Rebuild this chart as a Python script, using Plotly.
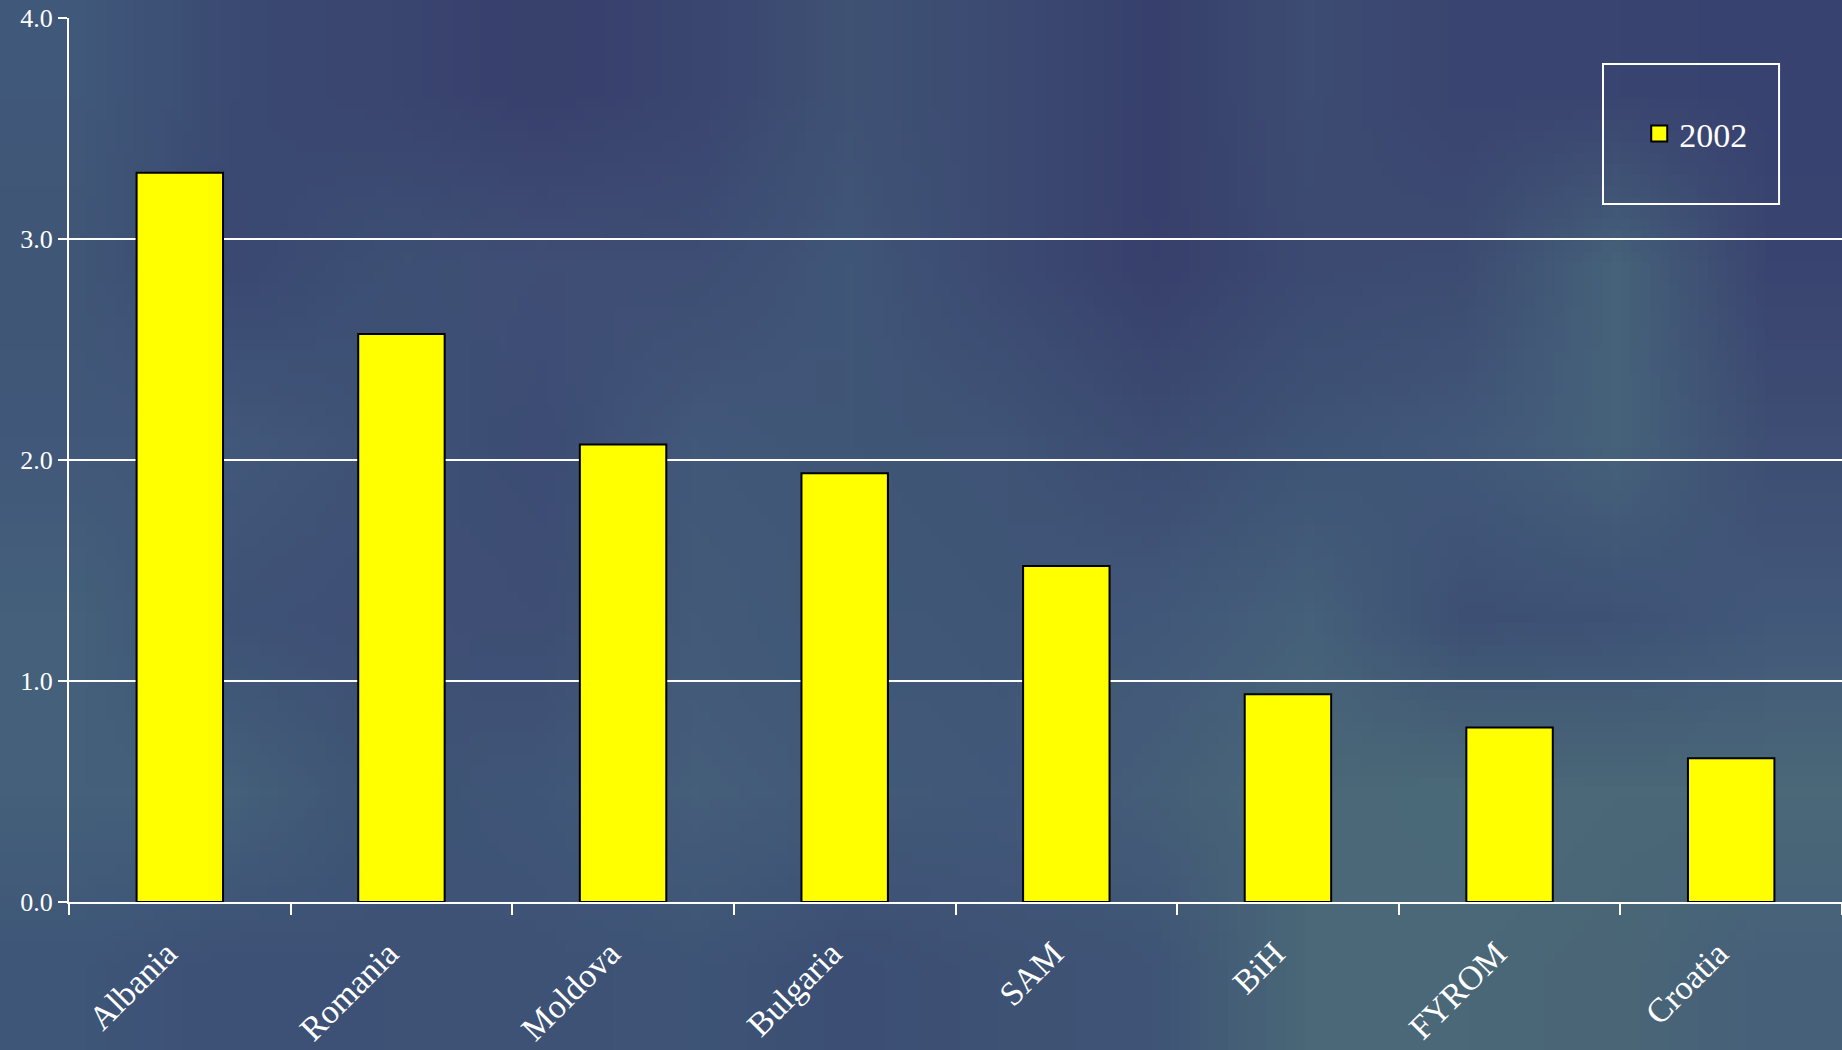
import base64
import struct
import zlib

import plotly.graph_objects as go

# ---------------- data ----------------
countries = ["Albania", "Romania", "Moldova", "Bulgaria", "SAM", "BiH", "FYROM", "Croatia"]
values_2002 = [3.30, 2.57, 2.07, 1.94, 1.52, 0.94, 0.79, 0.65]
series_name = "2002"
y_tick_values = [0, 1, 2, 3, 4]
y_tick_labels = ["0.0", "1.0", "2.0", "3.0", "4.0"]

# ---------------- background (blurred photo approximation) ----------------
bg_grid = [
    ["#40587a", "#3b4a72", "#3a4570", "#38406c", "#3a4570", "#3f5274", "#3c4a72", "#37406c", "#3d4c72", "#3a4470", "#3a4470", "#384270"],
    ["#405676", "#3a4872", "#3d5074", "#404e76", "#3e4e74", "#405678", "#3c4a72", "#38406c", "#3c4a72", "#3d4c72", "#46627a", "#3a4470"],
    ["#42587a", "#42587a", "#3e5276", "#3c4c74", "#42587a", "#405676", "#3f5476", "#3c4c72", "#3e5476", "#42587a", "#46627a", "#3e4e74"],
    ["#44607a", "#3e5276", "#404f76", "#3e4e74", "#435a78", "#405878", "#405676", "#42587a", "#45607a", "#3d5074", "#3e5276", "#42587a"],
    ["#44607a", "#44607a", "#3e5474", "#405678", "#455e7a", "#425a78", "#42587a", "#455e78", "#4a6878", "#4b6a78", "#4a6878", "#4a6878"],
    ["#3e5678", "#3d5076", "#3e5276", "#3e5276", "#3e5476", "#3c4e74", "#3e5274", "#3f5476", "#4a6878", "#4b6878", "#4a6676", "#46607a"],
]


def grid_png(grid):
    h = len(grid)
    w = len(grid[0])
    raw = b""
    for row in grid:
        raw += b"\x00"
        for c in row:
            raw += bytes(int(c[i:i + 2], 16) for i in (1, 3, 5))

    def chunk(tag, data):
        return (struct.pack(">I", len(data)) + tag + data
                + struct.pack(">I", zlib.crc32(tag + data) & 0xFFFFFFFF))

    png = (b"\x89PNG\r\n\x1a\n"
           + chunk(b"IHDR", struct.pack(">IIBBBBB", w, h, 8, 2, 0, 0, 0))
           + chunk(b"IDAT", zlib.compress(raw))
           + chunk(b"IEND", b""))
    return "data:image/png;base64," + base64.b64encode(png).decode()


# ---------------- figure ----------------
W, H = 1842, 1050
ML, MR, MT, MB = 69, 0, 18, 148
PW, PH = W - ML - MR, H - MT - MB

serif = "Liberation Serif, Times New Roman, serif"
bar_fill = "#FFFF00"
bar_edge = "#000000"

fig = go.Figure()
fig.add_trace(go.Bar(
    x=countries,
    y=values_2002,
    name=series_name,
    legendgroup=series_name,
    showlegend=False,
    marker=dict(color=bar_fill, line=dict(color=bar_edge, width=2)),
))
# legend key only (larger square key like the original)
fig.add_trace(go.Scatter(
    x=[None], y=[None],
    mode="markers",
    name=series_name,
    legendgroup=series_name,
    marker=dict(symbol="square", size=20, color=bar_fill, line=dict(color=bar_edge, width=2)),
    hoverinfo="skip",
))

fig.update_layout(
    width=W,
    height=H,
    autosize=False,
    margin=dict(l=ML, r=MR, t=MT, b=MB, pad=0),
    paper_bgcolor="#3f5274",
    plot_bgcolor="rgba(0,0,0,0)",
    bargap=0.61,
    showlegend=True,
    legend=dict(
        x=0.9175, y=0.8688, xanchor="center", yanchor="middle",
        bgcolor="rgba(0,0,0,0)", borderwidth=0,
        font=dict(family=serif, size=34, color="white"),
    ),
    images=[dict(
        source=grid_png(bg_grid),
        xref="paper", yref="paper",
        x=-ML / PW, y=1 + MT / PH,
        sizex=W / PW, sizey=H / PH,
        xanchor="left", yanchor="top",
        sizing="stretch", layer="below",
    )],
    shapes=[dict(
        type="rect", xref="paper", yref="paper",
        x0=0.8652, x1=0.9645, y0=0.7896, y1=0.948,
        line=dict(color="white", width=2),
    )],
)

fig.update_xaxes(
    type="category",
    categoryorder="array",
    categoryarray=countries,
    range=[-0.5, len(countries) - 0.5],
    tickson="boundaries",
    ticks="outside", ticklen=11, tickwidth=2, tickcolor="white",
    showline=True, linecolor="white", linewidth=2,
    showgrid=False,
    tickangle=-45,
    ticklabelstandoff=16,
    ticklabelshift=-13,
    tickfont=dict(family=serif, size=34, color="white"),
)
fig.update_yaxes(
    range=[0, 4],
    tickvals=y_tick_values,
    ticktext=y_tick_labels,
    ticks="outside", ticklen=9, tickwidth=2, tickcolor="white",
    showline=True, linecolor="white", linewidth=2,
    showgrid=True, gridcolor="white", gridwidth=2,
    zeroline=False,
    tickfont=dict(family=serif, size=26, color="white"),
)

fig.write_html(
    "out.html",
    config={"displayModeBar": False},
    post_script="document.body.style.margin='0';document.body.style.overflow='hidden';",
)
